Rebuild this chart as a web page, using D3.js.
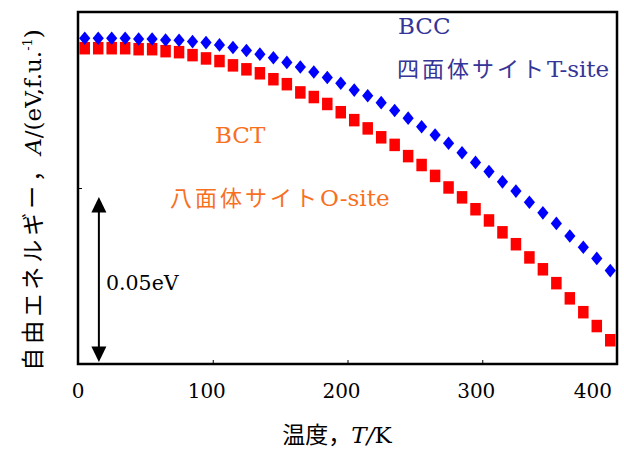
<!DOCTYPE html>
<html>
<head>
<meta charset="utf-8">
<script src="https://cdn.jsdelivr.net/npm/d3@7"></script>
<style>
  body { margin: 0; background: #fff; }
  svg { display: block; }
</style>
</head>
<body>
<svg id="chart"></svg>
<script>
// temperature (K), relative free energy in meV (0.05 eV = 50)
var temps = d3.range(40).map(function (i) { return 5 + i * 10; });
var bccA = [98.7, 98.7, 98.7, 98.7, 98.5, 98.5, 98.2, 98.1, 97.7, 97.4,
            96.7, 95.9, 95.0, 93.9, 92.8, 91.4, 90.0, 88.5, 86.8, 85.1,
            83.0, 81.3, 79.2, 76.8, 74.5, 71.9, 69.4, 66.9, 64.0, 61.1,
            58.3, 55.2, 52.4, 49.0, 45.8, 42.6, 38.8, 35.4, 32.0, 28.3];
var bctA = [95.7, 95.7, 95.7, 95.7, 95.4, 95.4, 94.8, 94.5, 93.6, 92.6,
            91.8, 90.5, 89.3, 88.1, 86.3, 84.8, 82.3, 80.9, 78.8, 76.3,
            73.9, 71.4, 68.7, 66.4, 63.0, 60.3, 57.0, 53.5, 50.5, 46.9,
            43.5, 39.9, 36.3, 32.3, 28.7, 24.5, 19.9, 15.7, 11.5, 7.2];
var xTicks = [0, 100, 200, 300, 400];
var yTicks = [0, 53.33, 106.67];
var arrowT = 15.5, arrowFrom = 0.6, arrowSpan = 50;   // 0.05 eV bar

var width = 624, height = 449,
    margin = {top: 12, right: 7, bottom: 85, left: 78};

var svg = d3.select("#chart")
    .attr("width", width)
    .attr("height", height)

var x = d3.scaleLinear().domain([0, 400]).range([margin.left, width - margin.right]);
var y = d3.scaleLinear().domain([0, 106.67]).range([height - margin.bottom, margin.top]);

var serif = "'DejaVu Serif', 'Liberation Serif', serif",
    cjk = "'Noto Sans CJK JP', sans-serif";

var bct = temps.map(function (t, i) { return {t: t, a: bctA[i]}; });
var bcc = temps.map(function (t, i) { return {t: t, a: bccA[i]}; });

svg.selectAll("rect.bct")
    .data(bct)
    .enter().append("rect")
    .attr("class", "bct")
    .attr("x", d => x(d.t) - 5.25)
    .attr("y", d => y(d.a) - 6.25)
    .attr("width", 10.5)
    .attr("height", 12.5)
    .attr("fill", "#ff0000")

svg.selectAll("path.bcc")
    .data(bcc)
    .enter().append("path")
    .attr("class", "bcc")
    .attr("d", "M0,-6.8L5.6,0L0,6.8L-5.6,0Z")
    .attr("transform", d => "translate(" + x(d.t) + "," + y(d.a) + ")")
    .attr("fill", "#0000ff")

// ticks (inside), no labels from the axis itself
var xAxis = svg.append("g")
    .attr("transform", "translate(0," + y(0) + ")")
    .call(d3.axisBottom(x).tickValues(xTicks).tickSizeInner(-4).tickSizeOuter(0).tickFormat(""))
xAxis.select(".domain").remove()
xAxis.selectAll("line").attr("stroke", "#000").attr("stroke-width", 1)

var yAxis = svg.append("g")
    .attr("transform", "translate(" + x(0) + ",0)")
    .call(d3.axisLeft(y).tickValues(yTicks).tickSizeInner(-4).tickSizeOuter(0).tickFormat(""))
yAxis.select(".domain").remove()
yAxis.selectAll("line").attr("stroke", "#000").attr("stroke-width", 1)

// frame
svg.append("rect")
    .attr("x", x(0))
    .attr("y", y(106.67))
    .attr("width", x(400) - x(0))
    .attr("height", y(0) - y(106.67))
    .attr("fill", "none")
    .attr("stroke", "#000")
    .attr("stroke-width", 2.5)

// tick labels (sit a little left of their ticks in the original)
svg.selectAll("text.xlab")
    .data(xTicks)
    .enter().append("text")
    .attr("class", "xlab")
    .attr("x", (d, i) => i === xTicks.length - 1 ? x(d) - 5 : x(d) - (i ? 6 : 0))
    .attr("y", 398)
    .attr("text-anchor", (d, i) => i === xTicks.length - 1 ? "end" : "middle")
    .style("font-family", serif)
    .style("font-size", "20px")
    .text(d => d)

// x title
var xt = svg.append("text")
    .attr("x", 337)
    .attr("y", 443)
    .attr("text-anchor", "middle")
    .style("font-size", "23px")
xt.append("tspan").style("font-family", cjk).text("温度，")
xt.append("tspan").style("font-family", serif).style("font-style", "italic").text("T/")
xt.append("tspan").style("font-family", serif).text("K")

// y title
var yt = svg.append("text")
    .attr("transform", "translate(41,200) rotate(-90)")
    .attr("text-anchor", "middle")
    .style("font-size", "23px")
yt.append("tspan").style("font-family", cjk).style("letter-spacing", "4px").text("自由エネルギー，")
yt.append("tspan").style("font-family", serif).style("font-style", "italic").text("A")
yt.append("tspan").style("font-family", serif).text("/(eV,f.u.")
yt.append("tspan").style("font-family", serif).style("font-size", "13px").attr("dy", -9).text("-1")
yt.append("tspan").style("font-family", serif).attr("dy", 9).text(")")

// 0.05 eV scale arrow
var ax = x(arrowT), a0 = y(arrowFrom), a1 = y(arrowFrom + arrowSpan);
svg.append("line")
    .attr("x1", ax).attr("x2", ax)
    .attr("y1", a0 - 12).attr("y2", a1 + 12)
    .attr("stroke", "#000")
    .attr("stroke-width", 2)
svg.append("path")
    .attr("d", "M" + ax + "," + a1 + "l-7.5,15.5h15z")
    .attr("fill", "#000")
svg.append("path")
    .attr("d", "M" + ax + "," + a0 + "l-7.5,-15.5h15z")
    .attr("fill", "#000")
svg.append("text")
    .attr("x", 106)
    .attr("y", 290)
    .style("font-family", serif)
    .style("font-size", "20.5px")
    .text("0.05eV")

// annotations
function label(xp, yp, color, jp, en) {
    var t = svg.append("text")
        .attr("x", xp)
        .attr("y", yp)
        .attr("fill", color)
        .style("font-size", "22px")
    if (jp) t.append("tspan").style("font-family", cjk).style("letter-spacing", "3px").text(jp)
    t.append("tspan").style("font-family", serif).style("font-size", "23px").text(en)
}
label(398, 34, "#353597", null, "BCC")
label(397, 77, "#353597", "四面体サイト", "T-site")
label(215, 143, "#f8701e", null, "BCT")
label(170, 206, "#f8701e", "八面体サイト", "O-site")
</script>
</body>
</html>
